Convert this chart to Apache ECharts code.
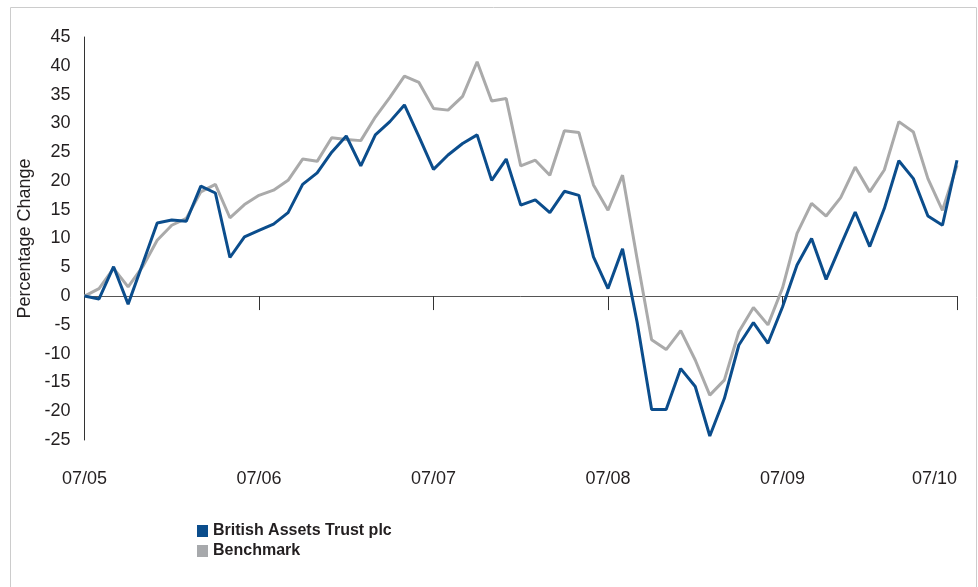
<!DOCTYPE html>
<html lang="en">
<head>
  <meta charset="UTF-8">
  <script src="https://cdn.jsdelivr.net/npm/echarts@6/dist/echarts.min.js"></script>
  <style>
    body{margin:0;background:#fff;}
  </style>
</head>
<body>
<div id="main" style="width:978px;height:587px;"></div>

<script>
  // monthly points, 07/05 .. 07/10
  var tickLabels = ['07/05','07/06','07/07','07/08','07/09','07/10'];
  var trust = [0,-0.5,5.1,-1.4,5.6,12.7,13.2,13.0,19.1,17.9,
    6.7,10.3,11.4,12.5,14.5,19.4,21.4,25,27.8,22.6,
    28,30.3,33.2,27.7,22,24.5,26.5,28,20.1,23.8,
    15.8,16.7,14.5,18.2,17.5,6.8,1.3,8.2,-4.5,-19.7,
    -19.7,-12.6,-15.7,-24.3,-17.8,-8.5,-4.6,-8.2,-1.9,5.4,
    10,2.9,8.8,14.6,8.6,15.2,23.5,20.4,13.9,12.3,
    23.6];
  var bench = [0,1.3,4.8,1.6,5.1,9.7,12.3,13.5,18.1,19.4,
    13.6,15.9,17.5,18.4,20.1,23.8,23.4,27.5,27.2,27,
    31.1,34.5,38.2,37.1,32.6,32.3,34.7,40.7,33.9,34.3,
    22.6,23.6,21,28.7,28.4,19.3,14.9,21,6.5,-7.6,
    -9.3,-6,-11.1,-17.2,-14.6,-6.2,-2,-5,1.4,10.9,
    16.1,13.9,17.1,22.4,18.1,21.9,30.3,28.5,20.4,14.9,
    22.7];

  var months = [];
  for (var i = 0; i < trust.length; i++) {
    months.push(i % 12 === 0 ? tickLabels[i / 12] : 'm' + i);
  }
  function isTick(i){ return i % 12 === 0; }

  var main = echarts.init(document.querySelector('#main'));
  var txt = '#231f20';
  var font = 'Liberation Sans, Arial, Helvetica, sans-serif';

  main.setOption({
    animation:false,
    textStyle:{fontFamily:font},
    graphic:[{
      type:'rect',
      shape:{x:10.5,y:7.5,width:966,height:620},
      style:{fill:null,stroke:'#cccccc',lineWidth:1},
      silent:true
    }],
    grid:{left:84.5,right:21,top:37,bottom:147},
    legend:{
      orient:'vertical',left:197,top:523,padding:0,
      itemWidth:11,itemHeight:12,itemGap:4,
      icon:'rect',
      textStyle:{fontSize:16,fontWeight:'bold',color:txt,lineHeight:16,padding:[0,0,0,0]},
      data:[
        {name:'British Assets Trust plc',itemStyle:{color:'#0b4d8c'}},
        {name:'Benchmark',itemStyle:{color:'#a7a9ac'}}
      ]
    },
    xAxis:[{
      type:'category',data:months,boundaryGap:false,
      axisLine:{onZero:true,lineStyle:{color:'#555555',width:1}},
      axisTick:{show:true,interval:isTick,length:14,inside:false,lineStyle:{color:'#333333'}},
      axisLabel:{show:false},
      splitLine:{show:false}
    },{
      type:'category',data:months,boundaryGap:false,position:'bottom',
      axisLine:{show:false,onZero:false},
      axisTick:{show:false},
      axisLabel:{
        interval:isTick,margin:30,fontSize:18,color:txt,
        alignMaxLabel:'right'
      },
      splitLine:{show:false}
    }],
    yAxis:{
      type:'value',min:-25,max:45,interval:5,
      name:'Percentage Change',nameLocation:'middle',nameGap:44,
      nameTextStyle:{fontSize:18,color:txt},
      axisLine:{show:true,lineStyle:{color:'#333333',width:1}},
      axisTick:{show:false},
      axisLabel:{fontSize:18,color:txt,margin:14},
      splitLine:{show:false}
    },
    series:[{
      name:'Benchmark',type:'line',data:bench,
      showSymbol:false,symbol:'none',
      lineStyle:{color:'#aaaaaa',width:3},
      itemStyle:{color:'#a7a9ac'},
      z:2
    },{
      name:'British Assets Trust plc',type:'line',data:trust,
      showSymbol:false,symbol:'none',
      lineStyle:{color:'#0b4d8c',width:3},
      itemStyle:{color:'#0b4d8c'},
      z:3
    }]
  });
</script>
</body>
</html>
